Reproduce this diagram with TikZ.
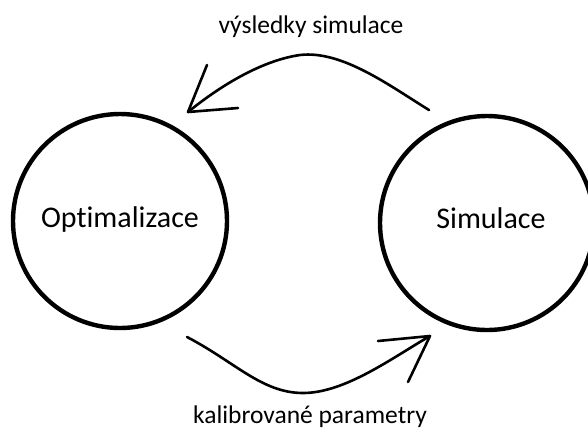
\documentclass[tikz,border=0pt]{standalone}
\usepackage{fontspec}
\setmainfont{Carlito}[Ligatures={NoCommon}]
\begin{document}
\begin{tikzpicture}[x=1pt,y=-1pt,
  state/.style={circle, draw=black, line width=4.4pt, minimum size=214pt, inner sep=0pt},
  big/.style={font=\fontsize{30}{36}\selectfont},
  small/.style={font=\fontsize{25.5}{30}\selectfont},
  flow/.style={draw=black, line width=2.6pt, line cap=round, line join=round}]
\useasboundingbox (0,0) rectangle (588,432);
\clip (0,0) rectangle (588,432);
\fill[white] (0,0) rectangle (588,432);
\node[state] (opt) at (120,221) {};
\node[state] (sim) at (487,223) {};
\node[big, anchor=base] (optl) at (120,227) {Optimalizace};
\node[big, anchor=base] (siml) at (491,228) {Simulace};
\node[small, anchor=base] (top) at (311,33) {výsledky simulace};
\node[small, anchor=base] (bot) at (310,423) {kalibrované parametry};
% top arrow
\coordinate (ts) at (429,110);
\coordinate (tt) at (188,112);
\coordinate (th1) at (207,65);
\coordinate (th2) at (238,108);
\draw[flow] (ts) .. controls (390,86) and (342,50) .. (300,55)
  .. controls (265,60) and (225,82) .. (tt);
\draw[flow] (th1) -- (tt) -- (th2);
% bottom arrow
\coordinate (bs) at (187,337);
\coordinate (bt) at (430,336);
\coordinate (bh1) at (378,341);
\coordinate (bh2) at (408,382);
\draw[flow] (bs) .. controls (235,362) and (262,393) .. (303,393)
  .. controls (345,393) and (392,358) .. (bt);
\draw[flow] (bh1) -- (bt) -- (bh2);
\end{tikzpicture}
\end{document}
